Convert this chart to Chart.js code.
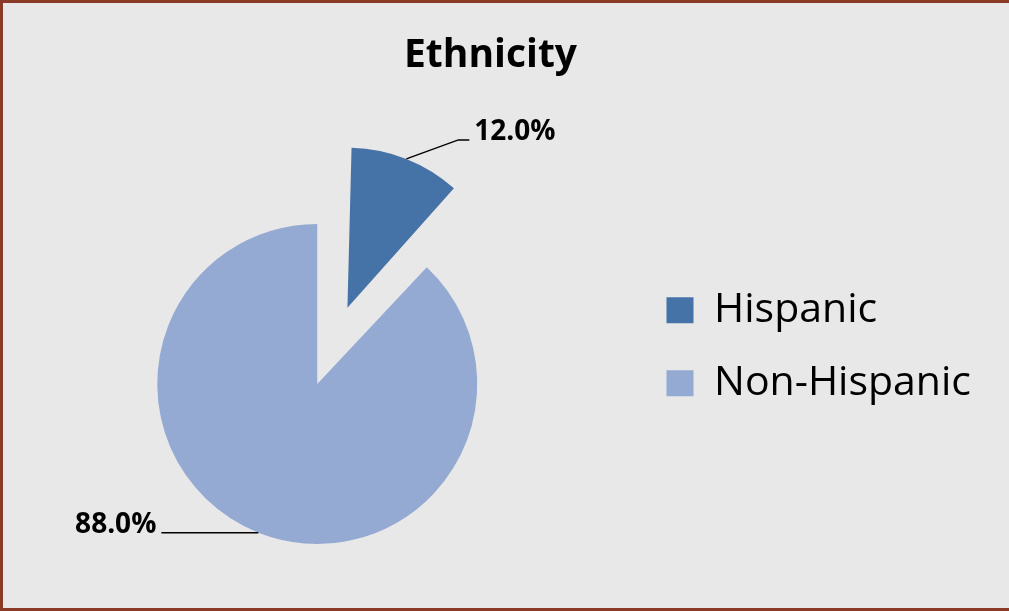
<!DOCTYPE html>
<html>
<head>
<meta charset="utf-8">
<script src="https://cdn.jsdelivr.net/npm/chart.js@4/dist/chart.umd.min.js"></script>
<style>
    html, body { margin: 0; padding: 0; background: #e8e8e8; }
</style>
</head>
<body>
<canvas id="ethnicityChart" width="1009" height="611"></canvas>
<script>
const categories = ['Hispanic', 'Non-Hispanic'];
const percentages = [12.0, 88.0];

// frame + background
const framePlugin = {
    id: 'frame',
    beforeDraw(chart) {
        const ctx = chart.ctx;
        ctx.save();
        ctx.fillStyle = '#e8e8e8';
        ctx.fillRect(0, 0, chart.width, chart.height);
        ctx.strokeStyle = '#8b3a28';
        ctx.lineWidth = 3;
        ctx.beginPath();
        ctx.moveTo(chart.width, 1.5);
        ctx.lineTo(1.5, 1.5);
        ctx.lineTo(1.5, chart.height - 1.5);
        ctx.lineTo(chart.width, chart.height - 1.5);
        ctx.stroke();
        ctx.restore();
    }
};

// chart.js grows an exploded arc's radius a bit, keep it at the pie radius
const radiusOffset = (arc) => {
    const t = (arc.options.offset || 0) / 4;
    return t * (1 - Math.sin(Math.min(Math.PI, arc.circumference || 0)));
};
const explodeFix = {
    id: 'explodeFix',
    beforeDatasetsDraw(chart) {
        const meta = chart.getDatasetMeta(0);
        const r = meta.controller.outerRadius;
        meta.data.forEach(arc => {
            arc.outerRadius = r - radiusOffset(arc);
        });
    }
};

// percentage labels with leader lines
const sliceLabels = {
    id: 'sliceLabels',
    afterDatasetsDraw(chart, args, opts) {
        const ctx = chart.ctx;
        const meta = chart.getDatasetMeta(0);
        ctx.save();
        ctx.strokeStyle = '#000';
        ctx.fillStyle = '#000';
        ctx.lineWidth = 1.5;
        ctx.font = opts.font;
        ctx.textBaseline = 'alphabetic';
        meta.data.forEach((arc, i) => {
            const {x, y, startAngle, endAngle, outerRadius} =
                arc.getProps(['x', 'y', 'startAngle', 'endAngle', 'outerRadius'], true);
            const mid = (startAngle + endAngle) / 2;
            const r = outerRadius + radiusOffset(arc) + (arc.options.offset || 0) / 4;
            const ax = x + Math.cos(mid) * r;
            const ay = y + Math.sin(mid) * r;
            const lead = opts.leaders[i];
            const dir = lead.dx >= 0 ? 1 : -1;
            const ex = ax + lead.dx;
            const ey = ay + lead.dy;
            const tx = ex + dir * lead.tail;
            ctx.beginPath();
            ctx.moveTo(ax, ay);
            ctx.lineTo(ex, ey);
            ctx.lineTo(tx, ey);
            ctx.stroke();
            ctx.textAlign = dir > 0 ? 'left' : 'right';
            ctx.fillText(percentages[i].toFixed(1) + '%', tx + dir * lead.gap, ey);
        });
        ctx.restore();
    }
};

const ctx = document.getElementById('ethnicityChart').getContext('2d');
const chart = new Chart(ctx, {
    type: 'pie',
    data: {
        labels: categories,
        datasets: [{
            data: percentages,
            backgroundColor: ['#4573a7', '#95aad3'],
            borderWidth: 0,
            offset: [328, 0]
        }]
    },
    options: {
        responsive: false,
        animation: false,
        devicePixelRatio: 1,
        radius: 160,
        layout: {
            padding: {left: 0, right: 28, top: 0, bottom: 0}
        },
        plugins: {
            title: {
                display: true,
                text: 'Ethnicity',
                color: '#000',
                font: {family: 'Open Sans', size: 39, weight: 'bold', lineHeight: 1.2},
                padding: {top: 32, bottom: 78}
            },
            legend: {
                position: 'right',
                align: 'center',
                title: {display: true, text: '', padding: {top: 0, bottom: 68}},
                labels: {
                    boxWidth: 27,
                    boxHeight: 26,
                    padding: 32,
                    color: '#000',
                    font: {family: 'Open Sans', size: 41}
                }
            },
            tooltip: {enabled: false},
            sliceLabels: {
                font: 'bold 28px "Open Sans"',
                leaders: [
                    {dx: 52, dy: -19, tail: 11, gap: 5},
                    {dx: -97, dy: 0, tail: 0, gap: 5}
                ]
            }
        }
    },
    plugins: [framePlugin, explodeFix, sliceLabels]
});
</script>
</body>
</html>
